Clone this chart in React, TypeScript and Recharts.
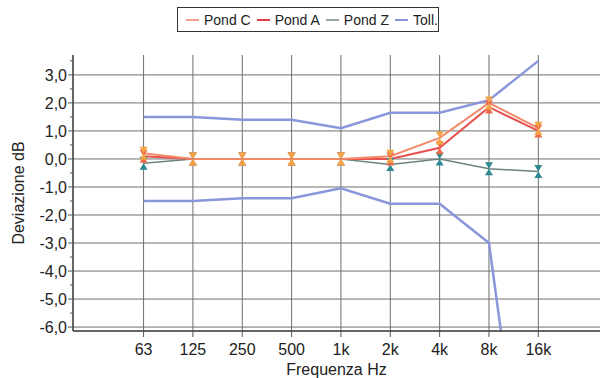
import React from 'react';
import { LineChart, Line, XAxis, YAxis, CartesianGrid } from 'recharts';

const categories = ['63', '125', '250', '500', '1k', '2k', '4k', '8k', '16k'];
const pondC = [0.2, 0.0, 0.0, 0.0, 0.0, 0.1, 0.75, 2.0, 1.1];
const pondA = [0.1, 0.0, 0.0, 0.0, 0.0, 0.0, 0.4, 1.85, 1.0];
const pondZ = [-0.15, 0.0, 0.0, 0.0, 0.0, -0.2, 0.0, -0.35, -0.45];
const tollUpper = [1.5, 1.5, 1.4, 1.4, 1.1, 1.65, 1.65, 2.1, 3.5];
const tollLower = [-1.5, -1.5, -1.4, -1.4, -1.05, -1.6, -1.6, -3.0, -16.0];

const yMajorTicks = [-6, -5, -4, -3, -2, -1, 0, 1, 2, 3];
const yAllTicks = [-6, -5.5, -5, -4.5, -4, -3.5, -3, -2.5, -2, -1.5, -1, -0.5, 0, 0.5, 1, 1.5, 2, 2.5, 3, 3.5];
const xTicks = [0, 1, 2, 3, 4, 5, 6, 7, 8];

const legendItems = [
  { name: 'Pond C', color: '#f4a08a' },
  { name: 'Pond A', color: '#e23a48' },
  { name: 'Pond Z', color: '#9aa4a4' },
  { name: 'Toll.', color: '#8a96dc' },
];

const data = categories.map((c, i) => ({
  x: i,
  pondC: pondC[i],
  pondA: pondA[i],
  pondZ: pondZ[i],
  tollU: tollUpper[i],
  tollL: tollLower[i],
}));

const FONT = '"Liberation Sans", Arial, sans-serif';
const TEXT = '#222';

const hourglass = (color: string) => (props: any) => {
  const { cx, cy } = props;
  if (cx == null || cy == null) return <g />;
  const w = 4;
  const h = 6.5;
  const d = `M${cx - w},${cy - h} L${cx + w},${cy - h} L${cx},${cy} Z M${cx - w},${cy + h} L${cx + w},${cy + h} L${cx},${cy} Z`;
  return <path d={d} fill={color} stroke="none" />;
};

const YTick = (props: any) => {
  const { x, y, payload } = props;
  const v = payload.value as number;
  const major = Number.isInteger(v);
  return (
    <g>
      <line x1={x - (major ? 5 : 3)} x2={x} y1={y} y2={y} stroke="#555" strokeWidth={1} />
      {major && (
        <text x={x - 6} y={y} dy="0.36em" textAnchor="end" fontSize={16} fill={TEXT} fontFamily={FONT}>
          {v.toFixed(1).replace('.', ',')}
        </text>
      )}
    </g>
  );
};

export default function App() {
  return (
    <div style={{ position: 'absolute', left: 0, top: 0, width: 600, height: 378, background: '#fff' }}>
      <LineChart
        width={600}
        height={378}
        data={data}
        margin={{ top: 55, right: 0, bottom: 0, left: 0 }}
      >
        <CartesianGrid
          stroke="#6e6e6e"
          strokeWidth={1}
          horizontalValues={yMajorTicks}
          verticalValues={xTicks}
        />
        <XAxis
          xAxisId="top"
          orientation="top"
          type="number"
          dataKey="x"
          domain={[-1.43, 9.25]}
          allowDataOverflow
          height={0}
          tick={false}
          tickLine={false}
          axisLine={{ stroke: '#333', strokeWidth: 1.5 }}
        />
        <XAxis
          type="number"
          dataKey="x"
          domain={[-1.43, 9.25]}
          allowDataOverflow
          ticks={xTicks}
          interval={0}
          tickFormatter={(i: number) => categories[i]}
          height={47}
          tickSize={6}
          tickMargin={7}
          tickLine={{ stroke: '#555' }}
          axisLine={{ stroke: '#333', strokeWidth: 1.5 }}
          tick={{ fontSize: 16, fill: TEXT, fontFamily: FONT }}
          label={{
            value: 'Frequenza Hz',
            position: 'insideBottom',
            offset: 3,
            fontSize: 16,
            fill: TEXT,
            fontFamily: FONT,
          }}
        />
        <YAxis
          type="number"
          domain={[-6.14, 3.71]}
          allowDataOverflow
          ticks={yAllTicks}
          interval={0}
          width={73}
          tickSize={0}
          tickMargin={0}
          tickLine={false}
          tick={<YTick />}
          axisLine={{ stroke: '#333', strokeWidth: 1.5 }}
          label={(p: any) => {
            const vb = p.viewBox || {};
            const cy = (vb.y ?? 55) + (vb.height ?? 276) / 2;
            return (
              <text
                x={18}
                y={cy}
                transform={`rotate(-90 18 ${cy})`}
                textAnchor="middle"
                dominantBaseline="central"
                fontSize={16}
                fill={TEXT}
                fontFamily={FONT}
              >
                Deviazione dB
              </text>
            );
          }}
        />
        <Line dataKey="tollU" stroke="#8a96dc" strokeWidth={2.5} dot={false} isAnimationActive={false} />
        <Line dataKey="tollL" stroke="#8a96dc" strokeWidth={2.5} dot={false} isAnimationActive={false} />
        <Line dataKey="pondZ" stroke="#6f8282" strokeWidth={1.5} dot={hourglass('#2e8890')} isAnimationActive={false} />
        <Line dataKey="pondA" stroke="#e8504e" strokeWidth={2} dot={hourglass('#f06a48')} isAnimationActive={false} />
        <Line dataKey="pondC" stroke="#f28a6a" strokeWidth={2} dot={hourglass('#f4a444')} isAnimationActive={false} />
      </LineChart>
      <div
        style={{
          position: 'absolute',
          left: 177,
          top: 7,
          width: 262,
          height: 25,
          border: '1.5px solid #333',
          display: 'flex',
          alignItems: 'center',
          paddingLeft: 8,
          boxSizing: 'border-box',
          fontFamily: FONT,
          fontSize: 14,
          color: TEXT,
          background: '#fff',
          whiteSpace: 'nowrap',
          overflow: 'visible',
        }}
      >
        {legendItems.map((it) => (
          <div key={it.name} style={{ display: 'flex', alignItems: 'center', marginRight: 6, flexShrink: 0 }}>
            <span style={{ display: 'inline-block', width: 13, height: 2, background: it.color, marginRight: 5, flexShrink: 0 }} />
            <span>{it.name}</span>
          </div>
        ))}
      </div>
    </div>
  );
}
